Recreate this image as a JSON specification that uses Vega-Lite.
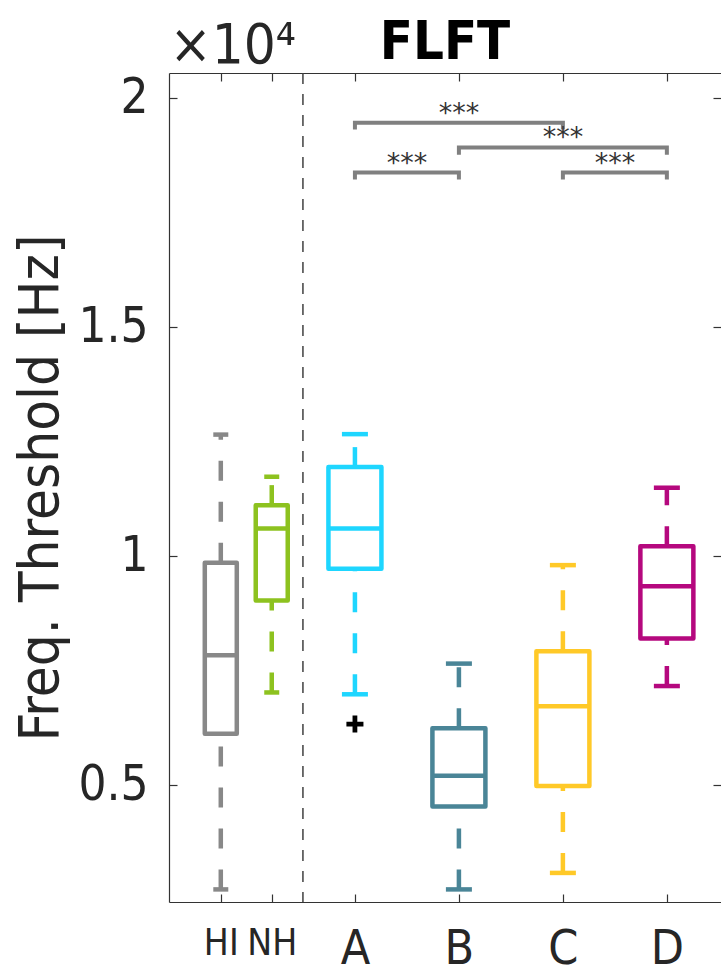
{
  "$schema": "https://vega.github.io/schema/vega-lite/v6.json",
  "width": 552,
  "height": 829,
  "autosize": {"type": "none"},
  "padding": {"left": 169, "top": 73, "right": 0, "bottom": 72},
  "background": "white",
  "title": {"text": "FLFT", "fontSize": 54, "font": "DejaVu Sans Condensed, DejaVu Sans", "fontWeight": "bold", "color": "#000000", "anchor": "middle", "offset": 0, "dy": 53},
  "config": {"view": {"stroke": null}, "axis": {"grid": false}},
  "datasets": {
    "boxes": [
      {"grp": "HI", "set": "pre", "pos": 1.71, "lo": 2720, "q1": 6120, "med": 7830, "q3": 9850, "hi": 12650},
      {"grp": "NH", "set": "pre", "pos": 2.2, "lo": 7020, "q1": 9030, "med": 10600, "q3": 11110, "hi": 11730},
      {"grp": "A", "set": "main", "pos": 3, "lo": 6980, "q1": 9720, "med": 10600, "q3": 11940, "hi": 12660},
      {"grp": "B", "set": "main", "pos": 4, "lo": 2720, "q1": 4530, "med": 5200, "q3": 6240, "hi": 7650},
      {"grp": "C", "set": "main", "pos": 5, "lo": 3080, "q1": 4980, "med": 6720, "q3": 7920, "hi": 9800},
      {"grp": "D", "set": "main", "pos": 6, "lo": 7160, "q1": 8200, "med": 9340, "q3": 10210, "hi": 11490}
    ],
    "outliers": [{"grp": "A", "pos": 3, "value": 6330}],
    "sep": [{"pos": 2.5}],
    "brackets": [
      {"br": "A-C", "ord": 1, "x": 3, "y": 19310},
      {"br": "A-C", "ord": 2, "x": 3, "y": 19460},
      {"br": "A-C", "ord": 3, "x": 5, "y": 19460},
      {"br": "A-C", "ord": 4, "x": 5, "y": 19310},
      {"br": "B-D", "ord": 1, "x": 4, "y": 18760},
      {"br": "B-D", "ord": 2, "x": 4, "y": 18920},
      {"br": "B-D", "ord": 3, "x": 6, "y": 18920},
      {"br": "B-D", "ord": 4, "x": 6, "y": 18760},
      {"br": "A-B", "ord": 1, "x": 3, "y": 18220},
      {"br": "A-B", "ord": 2, "x": 3, "y": 18370},
      {"br": "A-B", "ord": 3, "x": 4, "y": 18370},
      {"br": "A-B", "ord": 4, "x": 4, "y": 18220},
      {"br": "C-D", "ord": 1, "x": 5, "y": 18220},
      {"br": "C-D", "ord": 2, "x": 5, "y": 18370},
      {"br": "C-D", "ord": 3, "x": 6, "y": 18370},
      {"br": "C-D", "ord": 4, "x": 6, "y": 18220}
    ],
    "stars": [
      {"label": "***", "x": 4, "y": 19460},
      {"label": "***", "x": 5, "y": 18920},
      {"label": "***", "x": 3.5, "y": 18370},
      {"label": "***", "x": 5.5, "y": 18370}
    ]
  },
  "resolve": {"scale": {"size": "independent"}, "axis": {"x": "independent", "y": "independent"}},
  "layer": [
    {
      "data": {"name": "sep"},
      "mark": {"type": "rule", "color": "#404040", "strokeWidth": 1.5, "strokeDash": [11, 10]},
      "encoding": {
        "x": {"field": "pos", "type": "quantitative", "scale": {"domain": [1.26, 6.4725], "nice": false, "zero": false},
          "axis": {"orient": "top", "values": [1.71, 2.2, 3, 4, 5, 6], "labels": false, "tickSize": -8, "tickColor": "#333333", "domainColor": "#333333", "tickWidth": 1.2, "domainWidth": 1.2,
            "title": "×10⁴", "titleFont": "DejaVu Sans Condensed, DejaVu Sans", "titleFontSize": 56, "titleFontWeight": "normal", "titleColor": "#262626", "titleAngle": 0, "titleAlign": "left", "titleBaseline": "alphabetic", "titleX": 0, "titleY": -11}}
      }
    },
    {
      "data": {"name": "boxes"},
      "mark": {"type": "rule", "strokeWidth": 4.5, "strokeDash": [20, 21], "opacity": 1},
      "encoding": {
        "x": {"field": "pos", "type": "quantitative", "scale": {"domain": [1.26, 6.4725], "nice": false, "zero": false}, "axis": null},
        "y": {"field": "lo", "type": "quantitative", "scale": {"domain": [2445, 20545], "nice": false, "zero": false},
          "axis": {"orient": "right", "values": [5000, 10000, 15000, 20000], "labels": false, "tickSize": -8, "tickColor": "#333333", "tickWidth": 1.2, "domain": false, "title": null}},
        "y2": {"field": "q1"},
        "stroke": {"field": "grp", "type": "nominal", "scale": {"domain": ["HI", "NH", "A", "B", "C", "D"], "range": ["#888888", "#8DC21F", "#1ED6FF", "#4A8597", "#FFC928", "#B5087E"]}, "legend": null}
      }
    },
    {
      "data": {"name": "boxes"},
      "mark": {"type": "rule", "strokeWidth": 4.5, "strokeDash": [20, 21], "opacity": 1},
      "encoding": {
        "x": {"field": "pos", "type": "quantitative", "scale": {"domain": [1.26, 6.4725], "nice": false, "zero": false}, "axis": null},
        "y": {"field": "q3", "type": "quantitative", "scale": {"domain": [2445, 20545], "nice": false, "zero": false}, "axis": null},
        "y2": {"field": "hi"},
        "stroke": {"field": "grp", "type": "nominal", "legend": null}
      }
    },
    {
      "data": {"name": "boxes"},
      "mark": {"type": "bar", "orient": "vertical", "fill": "white", "strokeWidth": 4.5, "strokeJoin": "round", "opacity": 1},
      "encoding": {
        "x": {"field": "pos", "type": "quantitative", "scale": {"domain": [1.26, 6.4725], "nice": false, "zero": false},
          "axis": {"orient": "bottom", "values": [1.71, 2.2, 3, 4, 5, 6], "tickSize": -8, "tickColor": "#333333", "domainColor": "#333333", "tickWidth": 1.2, "domainWidth": 1.2,
            "labelExpr": "datum.value < 2 ? 'HI' : datum.value < 2.5 ? 'NH' : datum.value < 3.5 ? 'A' : datum.value < 4.5 ? 'B' : datum.value < 5.5 ? 'C' : 'D'",
            "labelFont": "DejaVu Sans Condensed, DejaVu Sans", "labelFontSize": {"condition": {"test": "datum.value < 2.5", "value": 37}, "value": 48}, "labelColor": "#262626",
            "labelPadding": 31, "labelOverlap": false, "labelFlush": false, "labelBound": false, "title": null}},
        "y": {"field": "q1", "type": "quantitative", "scale": {"domain": [2445, 20545], "nice": false, "zero": false},
          "axis": {"orient": "left", "values": [5000, 10000, 15000, 20000], "labelExpr": "datum.value / 10000", "tickSize": -8, "tickColor": "#333333", "domainColor": "#333333", "tickWidth": 1.2, "domainWidth": 1.2,
            "labelFont": "DejaVu Sans Condensed, DejaVu Sans", "labelFontSize": 49, "labelColor": "#262626", "labelPadding": 29, "labelOverlap": false, "labelFlush": false, "labelBound": false,
            "title": "Freq. Threshold [Hz]", "titleFont": "DejaVu Sans Condensed, DejaVu Sans", "titleFontSize": 56, "titleFontWeight": "normal", "titleColor": "#262626", "titleAngle": 270, "titleAlign": "center", "titleBaseline": "alphabetic", "titleX": -112, "titleY": 414.5}},
        "y2": {"field": "q3"},
        "size": {"field": "set", "type": "ordinal", "scale": {"domain": ["pre", "main"], "range": [32, 53]}, "legend": null},
        "stroke": {"field": "grp", "type": "nominal", "legend": null}
      }
    },
    {
      "data": {"name": "boxes"},
      "mark": {"type": "tick", "orient": "horizontal", "thickness": 4.5, "opacity": 1},
      "encoding": {
        "x": {"field": "pos", "type": "quantitative", "scale": {"domain": [1.26, 6.4725], "nice": false, "zero": false}, "axis": null},
        "y": {"field": "med", "type": "quantitative", "scale": {"domain": [2445, 20545], "nice": false, "zero": false}, "axis": null},
        "size": {"field": "set", "type": "ordinal", "scale": {"domain": ["pre", "main"], "range": [32, 53]}, "legend": null},
        "color": {"field": "grp", "type": "nominal", "scale": {"domain": ["HI", "NH", "A", "B", "C", "D"], "range": ["#888888", "#8DC21F", "#1ED6FF", "#4A8597", "#FFC928", "#B5087E"]}, "legend": null}
      }
    },
    {
      "data": {"name": "boxes"},
      "mark": {"type": "tick", "orient": "horizontal", "thickness": 4.5, "opacity": 1},
      "encoding": {
        "x": {"field": "pos", "type": "quantitative", "scale": {"domain": [1.26, 6.4725], "nice": false, "zero": false}, "axis": null},
        "y": {"field": "lo", "type": "quantitative", "scale": {"domain": [2445, 20545], "nice": false, "zero": false}, "axis": null},
        "size": {"field": "set", "type": "ordinal", "scale": {"domain": ["pre", "main"], "range": [15, 26]}, "legend": null},
        "color": {"field": "grp", "type": "nominal", "legend": null}
      }
    },
    {
      "data": {"name": "boxes"},
      "mark": {"type": "tick", "orient": "horizontal", "thickness": 4.5, "opacity": 1},
      "encoding": {
        "x": {"field": "pos", "type": "quantitative", "scale": {"domain": [1.26, 6.4725], "nice": false, "zero": false}, "axis": null},
        "y": {"field": "hi", "type": "quantitative", "scale": {"domain": [2445, 20545], "nice": false, "zero": false}, "axis": null},
        "size": {"field": "set", "type": "ordinal", "scale": {"domain": ["pre", "main"], "range": [15, 26]}, "legend": null},
        "color": {"field": "grp", "type": "nominal", "legend": null}
      }
    },
    {
      "data": {"name": "outliers"},
      "mark": {"type": "point", "filled": true, "color": "#000000", "opacity": 1, "shape": "M-1,-0.28H-0.28V-1H0.28V-0.28H1V0.28H0.28V1H-0.28V0.28H-1Z", "size": 290},
      "encoding": {
        "x": {"field": "pos", "type": "quantitative", "scale": {"domain": [1.26, 6.4725], "nice": false, "zero": false}, "axis": null},
        "y": {"field": "value", "type": "quantitative", "scale": {"domain": [2445, 20545], "nice": false, "zero": false}, "axis": null}
      }
    },
    {
      "data": {"name": "brackets"},
      "mark": {"type": "line", "color": "#808080", "strokeWidth": 4, "strokeJoin": "miter", "strokeCap": "butt"},
      "encoding": {
        "x": {"field": "x", "type": "quantitative", "scale": {"domain": [1.26, 6.4725], "nice": false, "zero": false}, "axis": null},
        "y": {"field": "y", "type": "quantitative", "scale": {"domain": [2445, 20545], "nice": false, "zero": false}, "axis": null},
        "detail": {"field": "br", "type": "nominal"},
        "order": {"field": "ord", "type": "quantitative"}
      }
    },
    {
      "data": {"name": "stars"},
      "mark": {"type": "text", "font": "DejaVu Sans", "fontSize": 27, "color": "#333333", "align": "center", "baseline": "alphabetic", "dy": -1},
      "encoding": {
        "x": {"field": "x", "type": "quantitative", "scale": {"domain": [1.26, 6.4725], "nice": false, "zero": false}, "axis": null},
        "y": {"field": "y", "type": "quantitative", "scale": {"domain": [2445, 20545], "nice": false, "zero": false}, "axis": null},
        "text": {"field": "label"}
      }
    }
  ]
}
